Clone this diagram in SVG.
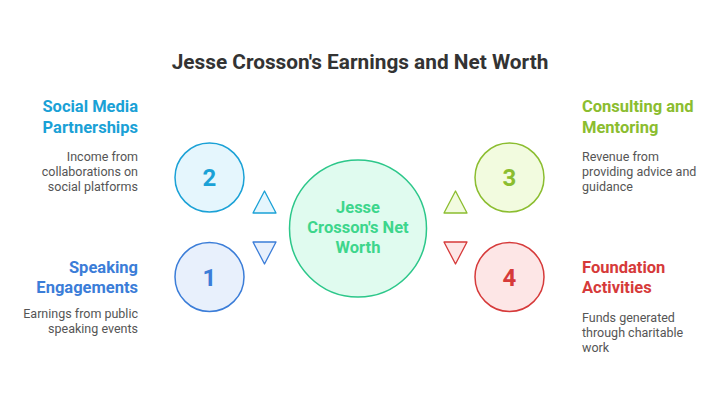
<svg xmlns="http://www.w3.org/2000/svg" width="720" height="405" viewBox="0 0 720 405">
<style>
text{font-family:Roboto,"Liberation Sans",sans-serif}
.title{font-size:20.8px;font-weight:bold;fill:#333}
.h{font-size:16.5px;font-weight:bold}
.d{font-size:12.5px;fill:#555}
.num{font-size:24px;font-weight:bold;text-anchor:middle}
.r{text-anchor:end}
.c{stroke-width:1.5}
</style>
<rect width="720" height="405" fill="#fff"/>
<text class="title" x="360" y="69" text-anchor="middle">Jesse Crosson's Earnings and Net Worth</text>
<g id="connectors" stroke-width="1.3" stroke-linejoin="round">
<polygon points="264.5,191 253,213 276,213" fill="#e5f6fd" stroke="#1aa1d6"/>
<polygon points="253,242 276,242 264.5,264" fill="#e8f0fc" stroke="#3b7dd8"/>
<polygon points="455.5,191 444,213 467,213" fill="#f2fbdf" stroke="#8bbd2f"/>
<polygon points="444,242 467,242 455.5,264" fill="#fde6e6" stroke="#d63a3a"/>
</g>
<g id="center">
<circle cx="358" cy="228.5" r="68.5" fill="#e0fbef" stroke="#2cc78a" class="c"/>
<text x="358" y="213" class="h" text-anchor="middle" fill="#3dd68c">Jesse</text>
<text x="358" y="233" class="h" text-anchor="middle" fill="#3dd68c">Crosson's Net</text>
<text x="358" y="253" class="h" text-anchor="middle" fill="#3dd68c">Worth</text>
</g>
<g id="node2">
<circle cx="209.5" cy="177.5" r="34.5" fill="#e5f6fd" stroke="#1aa1d6" class="c"/>
<text x="209.5" y="186" class="num" fill="#1aa1d6">2</text>
<text x="138" y="112" class="h r" fill="#1aa1d6">Social Media</text>
<text x="138" y="133" class="h r" fill="#1aa1d6">Partnerships</text>
<text x="138" y="161" class="d r">Income from</text>
<text x="138" y="176" class="d r">collaborations on</text>
<text x="138" y="191" class="d r">social platforms</text>
</g>
<g id="node1">
<circle cx="209.5" cy="277" r="34.5" fill="#e8f0fc" stroke="#3b7dd8" class="c"/>
<text x="209.5" y="285.5" class="num" fill="#3b7dd8">1</text>
<text x="138" y="273" class="h r" fill="#3b7dd8">Speaking</text>
<text x="138" y="293" class="h r" fill="#3b7dd8">Engagements</text>
<text x="138" y="318" class="d r">Earnings from public</text>
<text x="138" y="333" class="d r">speaking events</text>
</g>
<g id="node3">
<circle cx="509.5" cy="177.5" r="34.5" fill="#f2fbdf" stroke="#8bbd2f" class="c"/>
<text x="509.5" y="186" class="num" fill="#8bbd2f">3</text>
<text x="582" y="112" class="h" fill="#8bbd2f">Consulting and</text>
<text x="582" y="133" class="h" fill="#8bbd2f">Mentoring</text>
<text x="582" y="161" class="d">Revenue from</text>
<text x="582" y="176" class="d">providing advice and</text>
<text x="582" y="191" class="d">guidance</text>
</g>
<g id="node4">
<circle cx="509.5" cy="277" r="34.5" fill="#fde6e6" stroke="#d63a3a" class="c"/>
<text x="509.5" y="285.5" class="num" fill="#d63a3a">4</text>
<text x="582" y="273" class="h" fill="#d63a3a">Foundation</text>
<text x="582" y="293" class="h" fill="#d63a3a">Activities</text>
<text x="582" y="322" class="d">Funds generated</text>
<text x="582" y="337" class="d">through charitable</text>
<text x="582" y="352" class="d">work</text>
</g>
</svg>
